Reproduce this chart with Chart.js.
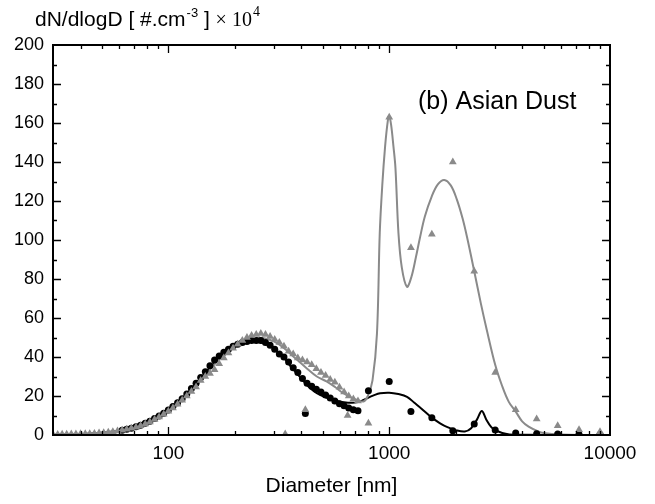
<!DOCTYPE html>
<html>
<head>
<meta charset="utf-8">
<script src="https://cdn.jsdelivr.net/npm/chart.js@4.4.1/dist/chart.umd.min.js"></script>
<style>
html, body { margin: 0; padding: 0; background: #fff; }
#wrap { width: 655px; height: 504px; position: relative; }
</style>
</head>
<body>
<div id="wrap"><canvas id="chart_asianDust"></canvas></div>
<script>
// SMPS channels, Asian dust (gray triangles)
var smpsGrayD = [30, 31.5, 33, 34.6, 36.3, 38.1, 40, 42, 44, 46.2, 48.5, 50.9, 53.4, 56, 58.8, 61.7, 64.7, 67.9, 71.3, 74.8, 78.5, 82.4, 86.5, 90.7, 95.2, 99.9, 104.8, 110, 115.4, 121.1, 127.1, 133.4, 140, 146.9, 154.2, 161.8, 169.8, 178.2, 187, 196.2, 205.9, 216.1, 226.8, 238, 249.8, 262.1, 275.1, 288.7, 302.9, 317.9, 333.6, 350.1, 367.4, 385.5, 404.6, 424.6, 445.6, 467.6, 490.7, 515, 540.4, 567.1, 595.2, 624.6, 655.5, 687.9, 721.9];
var smpsGrayN = [0.3, 0.3, 0.4, 0.4, 0.5, 0.5, 0.6, 0.6, 0.7, 0.8, 1.0, 1.2, 1.4, 1.7, 2.0, 2.4, 2.9, 3.4, 4.0, 4.8, 5.7, 6.7, 7.9, 9.2, 10.6, 12.2, 13.9, 15.8, 17.8, 20.0, 22.3, 24.6, 28.0, 30.0, 31.5, 33.5, 36.5, 39.5, 42.0, 44.5, 46.5, 48.5, 50.0, 51.0, 51.5, 52.0, 51.5, 50.5, 49.0, 47.5, 45.5, 43.0, 41.5, 39.5, 38.5, 37.5, 36.0, 34.0, 32.0, 30.5, 28.5, 27.0, 24.5, 22.0, 20.0, 18.5, 17.5];
// SMPS channels, background (black dots)
var smpsBlackD = [61.7, 64.7, 67.9, 71.3, 74.8, 78.5, 82.4, 86.5, 90.7, 95.2, 99.9, 104.8, 110, 115.4, 121.1, 127.1, 133.4, 140, 146.9, 154.2, 161.8, 169.8, 178.2, 187, 196.2, 205.9, 216.1, 226.8, 238, 249.8, 262.1, 275.1, 288.7, 302.9, 317.9, 333.6, 350.1, 367.4, 385.5, 404.6, 424.6, 445.6, 467.6, 490.7, 515, 540.4, 567.1, 595.2, 624.6, 655.5, 687.9, 721.9];
var smpsBlackN = [2.5, 3.0, 3.5, 4.2, 5.0, 6.0, 7.1, 8.4, 9.8, 11.2, 12.8, 14.6, 16.5, 18.6, 21.0, 23.8, 26.5, 29.5, 32.5, 35.5, 38.5, 40.5, 42.5, 44.0, 45.5, 46.5, 47.5, 48.0, 48.5, 48.5, 48.5, 47.5, 46.0, 44.0, 41.5, 40.0, 37.5, 34.5, 32.0, 29.0, 26.5, 25.0, 23.5, 22.0, 20.5, 19.0, 17.5, 16.0, 15.0, 13.8, 13.0, 12.5];

// OPC channels
var opcGrayD = [338, 417, 648, 805, 1000, 1254, 1560, 1941, 2427, 3020, 3740, 4654, 5795, 7240, 9010];
var opcGrayN = [0.5, 13, 10, 6, 163, 96, 103, 140, 84, 32, 13, 8.2, 4.8, 2.7, 1.7];
var opcBlackD = [417, 805, 1000, 1254, 1560, 1941, 2427, 3020, 3740, 4654, 5795, 7240, 9010];
var opcBlackN = [11, 22.7, 27.5, 12, 8.9, 2.2, 5.6, 2.6, 1.0, 0.7, 0.5, 0.3, 0.3];

// fitted curves
var fitGrayD = [30, 40, 50, 60, 70, 80, 90, 100, 115, 130, 150, 170, 190, 210, 230, 255, 275, 300, 330, 370, 420, 470, 520, 570, 620, 670, 715, 765, 800, 840, 880, 906, 930, 958, 985, 1000, 1020, 1045, 1067, 1101, 1140, 1203, 1260, 1320, 1377, 1450, 1560, 1660, 1775, 1900, 2022, 2150, 2256, 2427, 2600, 2765, 3020, 3250, 3480, 3740, 4000, 4280, 4700, 5000, 6000, 8000, 10000];
var fitGrayN = [0.2, 0.5, 1.2, 2.3, 4.0, 6.3, 9.0, 12.3, 18.0, 24.5, 32.0, 39.0, 44.0, 47.3, 49.0, 49.8, 49.5, 48.0, 45.0, 40.0, 34.5, 30.0, 27.5, 24.5, 21.4, 19.3, 18.0, 17.2, 20, 28, 52, 103.6, 128, 148, 161, 163.5, 159, 148, 137, 103.6, 86, 76, 81, 91, 101, 112, 122.5, 128.5, 130.8, 128, 121, 111, 101, 84, 67.5, 54, 36, 25, 17, 12, 7, 4.3, 2.0, 1.0, 0.2, 0.05, 0.02];
var fitBlackD = [30, 40, 50, 60, 70, 80, 90, 100, 115, 130, 150, 170, 190, 210, 230, 250, 270, 290, 310, 332, 356, 382, 410, 439, 470, 505, 550, 600, 650, 700, 750, 792, 850, 910, 1000, 1100, 1204, 1300, 1400, 1560, 1700, 1835, 2000, 2200, 2350, 2500, 2626, 2750, 2900, 3020, 3250, 3500, 4000, 10000];
var fitBlackN = [0.1, 0.4, 1.1, 2.3, 4.0, 6.4, 9.2, 12.5, 18.5, 25.0, 33.0, 39.5, 44.0, 46.8, 47.8, 47.9, 47.0, 45.5, 43.0, 40.0, 35.5, 31.6, 27.5, 24.0, 21.5, 19.7, 18.2, 17.1, 16.6, 16.6, 17.5, 18.8, 20.3, 21.4, 21.7, 21.0, 19.6, 16.5, 13.5, 8.9, 6.0, 4.0, 2.5, 1.8, 3.5, 8.0, 12.3, 8.0, 4.0, 2.6, 1.0, 0.3, 0.1, 0];

var xLabelTicks = [100, 1000, 10000];
var xMin = 30, xMax = 10000, yMin = 0, yMax = 200;

var gray = '#8a8a8a';
var fontSans = "'Liberation Sans', Arial, sans-serif";
var fontSerif = "'Liberation Serif', 'Times New Roman', serif";

function pts(xs, ys) {
    return xs.map(function(x, i) { return {x: x, y: ys[i]}; });
}

var frameTicks = {
    id: 'frameTicks',
    afterDraw: function(chart) {
        var ctx = chart.ctx, a = chart.chartArea;
        var xs = chart.scales.x, ys = chart.scales.y;
        ctx.save();
        ctx.strokeStyle = '#000';
        ctx.lineWidth = 2;
        ctx.strokeRect(a.left, a.top, a.right - a.left, a.bottom - a.top);
        ctx.lineWidth = 1.3;
        ctx.beginPath();
        // x ticks (log: majors at decades, minors at 2..9)
        for (var dec = 10; dec < xMax; dec *= 10) {
            for (var m = 1; m < 10; m++) {
                var v = dec * m;
                if (v <= xMin || v >= xMax) continue;
                var px = Math.round(xs.getPixelForValue(v)) + 0.5;
                var len = (m === 1) ? 8 : 4;
                ctx.moveTo(px, a.bottom); ctx.lineTo(px, a.bottom - len);
                ctx.moveTo(px, a.top); ctx.lineTo(px, a.top + len);
            }
        }
        // y ticks
        for (var yv = 10; yv < yMax; yv += 10) {
            var py = Math.round(ys.getPixelForValue(yv)) + 0.5;
            var l = (yv % 20 === 0) ? 8 : 4;
            ctx.moveTo(a.left, py); ctx.lineTo(a.left + l, py);
            ctx.moveTo(a.right, py); ctx.lineTo(a.right - l, py);
        }
        ctx.stroke();

        // y axis title at top-left
        ctx.fillStyle = '#000';
        ctx.textBaseline = 'alphabetic';
        ctx.textAlign = 'left';
        var x = 35, base = 26;
        ctx.font = '21px ' + fontSans;
        var s1 = 'dN/dlogD [ #.cm';
        ctx.fillText(s1, x, base); x += ctx.measureText(s1).width;
        ctx.font = '13px ' + fontSans;
        ctx.fillText('-3', x + 1, base - 9); x += ctx.measureText('-3').width + 1;
        ctx.font = '21px ' + fontSans;
        ctx.fillText(' ]', x, base); x += ctx.measureText(' ] ').width;
        ctx.font = '20px ' + fontSerif;
        ctx.fillText('\u00d7 10', x, base); x += ctx.measureText('\u00d7 10').width;
        ctx.font = '14px ' + fontSerif;
        ctx.fillText('4', x + 1, base - 10);

        // panel label
        ctx.font = '25px ' + fontSans;
        ctx.fillText('(b) Asian Dust', 418, 109);
        ctx.restore();
    }
};

var chart_asianDust = new Chart(document.getElementById('chart_asianDust'), {
    type: 'scatter',
    data: {
        datasets: [
            {
                label: 'Asian dust OPC',
                data: pts(opcGrayD, opcGrayN),
                pointStyle: 'triangle',
                pointRadius: 4.5,
                backgroundColor: gray,
                borderColor: gray,
                borderWidth: 0,
                order: 1
            },
            {
                label: 'Asian dust SMPS',
                data: pts(smpsGrayD, smpsGrayN),
                pointStyle: 'triangle',
                pointRadius: 4.5,
                backgroundColor: gray,
                borderColor: gray,
                borderWidth: 0,
                order: 2
            },
            {
                label: 'Background SMPS',
                data: pts(smpsBlackD, smpsBlackN),
                pointStyle: 'circle',
                pointRadius: 3.5,
                backgroundColor: '#000',
                borderColor: '#000',
                borderWidth: 0,
                order: 3
            },
            {
                label: 'Background OPC',
                data: pts(opcBlackD, opcBlackN),
                pointStyle: 'circle',
                pointRadius: 3.5,
                backgroundColor: '#000',
                borderColor: '#000',
                borderWidth: 0,
                order: 4
            },
            {
                label: 'Asian dust fit',
                data: pts(fitGrayD, fitGrayN),
                showLine: true,
                pointRadius: 0,
                borderColor: gray,
                borderWidth: 2,
                tension: 0.35,
                order: 5
            },
            {
                label: 'Background fit',
                data: pts(fitBlackD, fitBlackN),
                showLine: true,
                pointRadius: 0,
                borderColor: '#000',
                borderWidth: 2,
                tension: 0.35,
                order: 6
            }
        ]
    },
    options: {
        animation: false,
        responsive: true,
        maintainAspectRatio: false,
        layout: { padding: { top: 45, right: 45, left: 0, bottom: 0 } },
        plugins: {
            legend: { display: false },
            tooltip: { enabled: false }
        },
        scales: {
            x: {
                type: 'logarithmic',
                min: xMin,
                max: xMax,
                afterBuildTicks: function(scale) {
                    scale.ticks = xLabelTicks.map(function(v) { return {value: v}; });
                },
                afterFit: function(scale) { scale.height = 69; },
                grid: { display: false, drawTicks: false },
                border: { display: false },
                ticks: {
                    autoSkip: false,
                    maxRotation: 0,
                    padding: 7,
                    color: '#000',
                    font: { family: fontSans, size: 19 },
                    callback: function(value) { return String(value); }
                },
                title: {
                    display: true,
                    text: 'Diameter [nm]',
                    color: '#000',
                    font: { family: fontSans, size: 21 },
                    padding: { top: 0, bottom: 5 }
                }
            },
            y: {
                type: 'linear',
                min: yMin,
                max: yMax,
                afterFit: function(scale) { scale.width = 53; },
                grid: { display: false, drawTicks: false },
                border: { display: false },
                ticks: {
                    stepSize: 20,
                    padding: 9,
                    color: '#000',
                    font: { family: fontSans, size: 18 }
                }
            }
        }
    },
    plugins: [frameTicks]
});
</script>
</body>
</html>
